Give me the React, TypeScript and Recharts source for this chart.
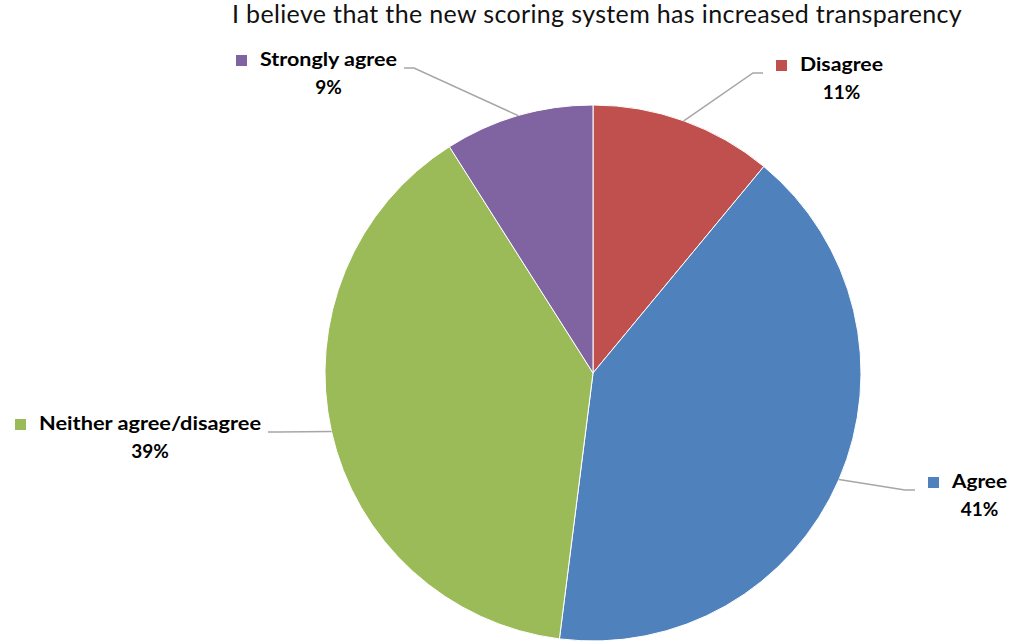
import { PieChart, Pie, Cell } from "recharts";

const categories = ["Disagree", "Agree", "Neither agree/disagree", "Strongly agree"];
const shares = [11, 41, 39, 9];
const COLORS = ["#C0504D", "#4F81BD", "#9BBB59", "#8064A2"];

// where each leader line bends and the label sits (Excel manual layout)
const LABEL_POS = [
  { x: 763, y: 73, side: "right", w: 83 },
  { x: 915, y: 490, side: "right", w: 55 },
  { x: 268, y: 432, side: "left", w: 222 },
  { x: 404, y: 68, side: "left", w: 137 },
];

const data = categories.map((name, i) => ({ name, value: shares[i] }));
const FONT = "Lato, 'Open Sans', sans-serif";
const RAD = Math.PI / 180;

function renderLabel(props: any) {
  const { cx, cy, outerRadius, midAngle, index, percent } = props;
  const sx = cx + outerRadius * Math.cos(-midAngle * RAD);
  const sy = cy + outerRadius * Math.sin(-midAngle * RAD);
  const p = LABEL_POS[index];
  const elbow = p.side === "right" ? p.x - 10 : p.x + 10;
  const name = categories[index];
  const pct = Math.round(percent * 100) + "%";
  // square marker then name, percentage centred under the name
  let sqX: number, txtX: number;
  if (p.side === "right") {
    sqX = p.x + 13;
    txtX = sqX + 24;
  } else {
    txtX = p.x - 7 - p.w;
    sqX = txtX - 24;
  }
  const textY = p.y - 7;
  return (
    <g key={`lbl-${index}`}>
      <polyline
        points={`${sx},${sy} ${elbow},${p.y} ${p.x},${p.y}`}
        fill="none"
        stroke="#A6A6A6"
        strokeWidth={1.5}
      />
      <rect x={sqX} y={textY - 6} width={11} height={11} fill={COLORS[index]} />
      <text
        x={txtX}
        y={textY}
        dominantBaseline="middle"
        fontFamily={FONT}
        fontWeight={700}
        fontSize={19}
        fill="#000"
        textLength={p.w}
        lengthAdjust="spacingAndGlyphs"
      >
        {name}
      </text>
      <text
        x={txtX + p.w / 2}
        y={textY + 28}
        textAnchor="middle"
        dominantBaseline="middle"
        fontFamily={FONT}
        fontWeight={700}
        fontSize={19}
        fill="#000"
      >
        {pct}
      </text>
    </g>
  );
}

export default function App() {
  return (
    <div style={{ position: "relative", width: 1024, height: 643, background: "#fff" }}>
      <style>{`body{margin:0}`}</style>
      <div
        style={{
          position: "absolute",
          left: 232,
          top: -2,
          fontFamily: FONT,
          fontSize: 25,
          letterSpacing: 0.35,
          color: "#111",
          whiteSpace: "nowrap",
        }}
      >
        I believe that the new scoring system has increased transparency
      </div>
      <PieChart width={1024} height={643} margin={{ top: 0, right: 0, bottom: 0, left: 0 }}>
        <Pie
          data={data}
          dataKey="value"
          nameKey="name"
          cx={593}
          cy={373}
          outerRadius={268}
          startAngle={90}
          endAngle={-270}
          stroke="#fff"
          strokeWidth={1}
          label={renderLabel}
          labelLine={false}
          isAnimationActive={false}
        >
          {data.map((_, i) => (
            <Cell key={`cell-${i}`} fill={COLORS[i]} />
          ))}
        </Pie>
      </PieChart>
    </div>
  );
}
